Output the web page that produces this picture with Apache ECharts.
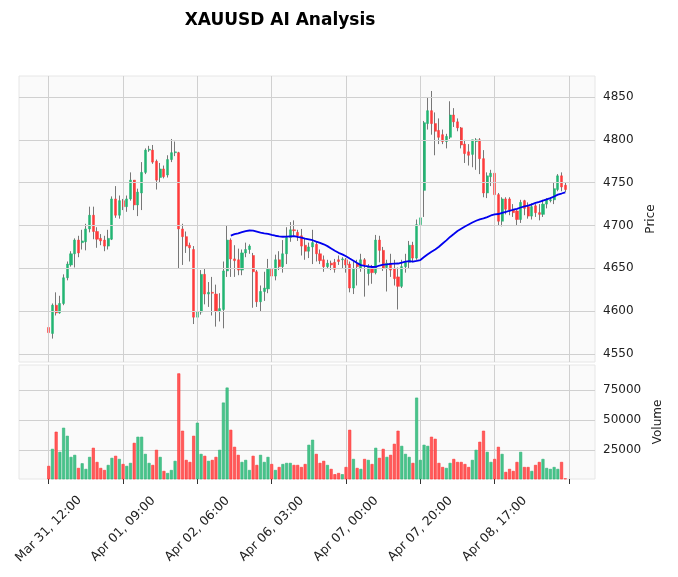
<!DOCTYPE html>
<html><head><meta charset="utf-8">
<script src="https://cdn.jsdelivr.net/npm/echarts@6/dist/echarts.min.js"></script>
<style>html,body{margin:0;padding:0;background:#fff}#c{width:678px;height:577px}</style>
</head><body><div id="c"></div>
<script>
// [open, close, low, high]
const candles = [
[4581,4575,4569,4589],[4574,4607,4568,4609],[4607,4598,4595,4622],[4598,4609,4597,4618],[4609,4639,4607,4643],
[4639,4655,4636,4658],[4654,4667,4652,4670],[4667,4683,4651,4685],[4683,4668,4663,4688],[4680,4682,4672,4695],
[4681,4696,4671,4702],[4696,4712,4692,4722],[4712,4693,4684,4722],[4693,4684,4674,4698],[4685,4682,4677,4690],
[4683,4676,4670,4688],[4676,4685,4672,4695],[4684,4731,4683,4734],[4731,4712,4709,4746],[4712,4729,4708,4735],
[4729,4722,4718,4731],[4722,4731,4716,4735],[4731,4753,4729,4762],[4753,4724,4718,4753],[4724,4739,4711,4743],
[4738,4762,4718,4774],[4762,4788,4760,4790],[4788,4789,4786,4793],[4788,4774,4772,4794],[4775,4753,4742,4777],
[4756,4766,4750,4773],[4766,4757,4755,4770],[4759,4777,4756,4782],[4777,4785,4774,4801],[4785,4786,4781,4798],
[4785,4696,4650,4786],[4696,4687,4654,4702],[4687,4676,4668,4693],[4677,4674,4658,4680],[4672,4593,4585,4676],
[4593,4599,4555,4609],[4599,4643,4596,4648],[4643,4620,4608,4650],[4620,4622,4605,4634],[4622,4621,4595,4640],
[4620,4600,4582,4631],[4600,4603,4588,4621],[4602,4647,4580,4658],[4647,4683,4640,4700],[4683,4661,4640,4685],
[4661,4659,4640,4677],[4660,4648,4642,4673],[4648,4668,4642,4672],[4668,4672,4663,4680],[4672,4676,4667,4678],
[4665,4646,4604,4668],[4646,4611,4605,4648],[4611,4623,4600,4630],[4623,4627,4612,4646],[4626,4649,4621,4661],
[4649,4641,4638,4652],[4641,4660,4636,4666],[4660,4652,4648,4670],[4652,4667,4645,4683],[4667,4686,4655,4698],
[4686,4695,4681,4704],[4695,4694,4688,4706],[4692,4688,4682,4695],[4688,4676,4665,4696],[4677,4670,4660,4685],
[4670,4675,4662,4680],[4675,4680,4655,4695],[4678,4667,4658,4681],[4667,4659,4655,4672],[4660,4652,4646,4665],
[4652,4656,4650,4660],[4656,4654,4648,4659],[4657,4649,4645,4661],[4660,4658,4654,4665],[4660,4661,4650,4663],
[4660,4654,4645,4662],[4655,4627,4622,4658],[4627,4650,4620,4658],[4655,4652,4630,4660],[4650,4660,4646,4667],
[4660,4654,4617,4662],[4644,4652,4630,4655],[4651,4645,4632,4654],[4645,4683,4643,4689],[4683,4671,4657,4688],
[4671,4650,4647,4675],[4651,4656,4623,4660],[4656,4648,4640,4667],[4650,4638,4630,4660],[4640,4629,4602,4651],
[4629,4652,4627,4660],[4652,4657,4645,4667],[4657,4677,4650,4682],[4677,4662,4657,4681],[4662,4701,4660,4707],
[4701,4709,4700,4712],[4741,4820,4710,4822],[4819,4834,4812,4850],[4834,4819,4806,4857],[4819,4810,4782,4832],
[4811,4803,4795,4825],[4806,4798,4795,4812],[4798,4804,4790,4807],[4803,4829,4801,4845],[4829,4821,4815,4837],
[4821,4814,4810,4825],[4814,4794,4790,4815],[4795,4784,4773,4800],[4786,4782,4770,4795],[4783,4800,4768,4800],
[4798,4800,4765,4802],[4800,4778,4760,4802],[4778,4738,4733,4788],[4738,4758,4732,4762],[4757,4761,4746,4765],
[4761,4736,4733,4765],[4736,4705,4700,4738],[4705,4731,4699,4733],[4731,4719,4713,4733],[4731,4718,4712,4733],
[4718,4715,4710,4725],[4717,4707,4700,4718],[4707,4727,4703,4730],[4729,4720,4712,4730],[4722,4711,4708,4727],
[4711,4722,4707,4726],[4723,4715,4710,4725],[4715,4713,4706,4725],[4713,4725,4710,4730],[4725,4730,4720,4732],
[4729,4730,4727,4733],[4730,4743,4725,4750],[4742,4758,4740,4760],[4758,4745,4740,4762],[4747,4742,4739,4750]
];
const volumes = [
11900,26100,40400,23600,43700,37000,19400,21100,10200,14100,9400,19400,27000,15200,10200,8500,12700,18600,20300,17700,
13500,11900,14400,31100,36200,36200,21900,14400,12700,25300,19400,7700,6000,8500,16100,89000,41200,16900,15200,37000,
47900,21900,20300,16100,16900,19400,25300,64700,77200,42000,27800,21100,15200,16900,8500,20300,12700,21100,15200,19400,
13500,8500,11000,13500,14400,14400,12700,12700,11000,13500,29500,33700,21900,14400,16100,12700,9400,5000,6000,5000,
11000,42000,17700,10200,9400,17700,16900,13500,27000,18600,26100,19400,21100,30300,41200,28600,21900,19400,14400,68800,
16900,29500,28600,36200,34500,14400,11000,10200,14400,17700,15200,15200,13500,11000,16900,25300,32000,41200,23600,15200,
17700,27800,21900,6900,9400,7700,15200,23600,11000,11000,7700,12700,15200,17700,10200,9400,11000,9400,15200,1500
];
const tickPositions = [0,20,40,60,80,100,120,140];
const tickLabels = ['Mar 31, 12:00','Apr 01, 09:00','Apr 02, 06:00','Apr 06, 03:00','Apr 07, 00:00','Apr 07, 20:00','Apr 08, 17:00',''];
const priceTicks = [4550,4600,4650,4700,4750,4800,4850];
const volumeTicks = [25000,50000,75000];
const maPeriod = 50;

const UP='#22b573', DOWN='#ff3b3b', VUP='#48c48b', VDOWN='#ff5b5b';
const wicks = candles.map((c,i)=>[i,c[0],c[0],c[2],c[3]]);
const bodies = candles.map((c,i)=>[i,c[0],c[1],Math.min(c[0],c[1]),Math.max(c[0],c[1])]);
const ma = [];
for(let i=maPeriod-1;i<candles.length;i++){let s=0;for(let j=i-maPeriod+1;j<=i;j++)s+=candles[j][1];ma.push([i,s/maPeriod]);}
const vols = volumes.map((v,i)=>({value:[i,v],itemStyle:{color:candles[i][1]>=candles[i][0]?VUP:VDOWN,borderColor:candles[i][1]>=candles[i][0]?'#2fb277':'#ff3333',borderWidth:0.6}}));
const font='DejaVu Sans';
const gridLine = {color:'#d0d0d0',width:1,type:'solid'};
function gridMarks(yVals){
  return {silent:true,symbol:'none',label:{show:false},lineStyle:gridLine,animation:false,
    data:tickPositions.map(x=>({xAxis:x})).concat(yVals.map(y=>({yAxis:y})))};
}
const xBase = {type:'value',min:-8,max:147,axisLine:{show:false},splitLine:{show:false},
  axisTick:{show:true,customValues:tickPositions,length:5,lineStyle:{color:'#333'}}};
const chart = echarts.init(document.getElementById('c'));
chart.setOption({
  animation:false,
  backgroundColor:'#fff',
  title:{text:'XAUUSD AI Analysis',left:275,top:7,textAlign:'center',textStyle:{fontFamily:font,fontSize:17,fontWeight:'bold',color:'#000'}},
  grid:[{left:19,width:576,top:76,height:286,show:true,backgroundColor:'#fafafa',borderColor:'#e6e6e6',outerBoundsMode:'none',containLabel:false},
        {left:19,width:576,top:365,height:114,show:true,backgroundColor:'#fafafa',borderColor:'#e6e6e6',outerBoundsMode:'none',containLabel:false}],
  xAxis:[Object.assign({gridIndex:0,axisLabel:{show:false}},xBase,{axisTick:{show:false}}),
         Object.assign({gridIndex:1,axisLabel:{customValues:tickPositions,rotate:45,fontFamily:font,fontSize:12.5,color:'#222',margin:50,
           align:'center',verticalAlign:'middle',hideOverlap:false,
           formatter:v=>tickLabels[tickPositions.indexOf(Math.round(v))]||''}},xBase)],
  yAxis:[{gridIndex:0,position:'right',min:4540.7,max:4874.5,name:'Price',nameLocation:'middle',nameGap:42,nameRotate:90,
          nameTextStyle:{fontFamily:font,fontSize:12,color:'#222'},axisLine:{show:false},splitLine:{show:false},
          axisTick:{show:true,customValues:priceTicks,length:4,lineStyle:{color:'#333'}},
          axisLabel:{customValues:priceTicks,fontFamily:font,fontSize:12,color:'#222',margin:8,formatter:v=>String(v)}},
         {gridIndex:1,position:'right',min:1000,max:96000,name:'Volume',nameLocation:'middle',nameGap:52,nameRotate:90,
          nameTextStyle:{fontFamily:font,fontSize:12,color:'#222'},axisLine:{show:false},splitLine:{show:false},
          axisTick:{show:true,customValues:volumeTicks,length:4,lineStyle:{color:'#333'}},
          axisLabel:{customValues:volumeTicks,fontFamily:font,fontSize:12,color:'#222',margin:8,formatter:v=>String(v)}}],
  series:[
    {type:'candlestick',xAxisIndex:0,yAxisIndex:0,data:wicks,barWidth:1,z:3,markLine:gridMarks(priceTicks),
     itemStyle:{color:'#777',color0:'#777',borderColor:'#777',borderColor0:'#777',borderWidth:1}},
    {type:'candlestick',xAxisIndex:0,yAxisIndex:0,data:bodies,barWidth:2.6,z:4,
     itemStyle:{color:UP,color0:DOWN,borderColor:UP,borderColor0:DOWN,borderWidth:0.5}},
    {type:'line',xAxisIndex:0,yAxisIndex:0,data:ma,showSymbol:false,z:5,lineStyle:{color:'#0000ee',width:1.8}},
    {type:'bar',xAxisIndex:1,yAxisIndex:1,data:vols,barWidth:3,z:3,markLine:Object.assign(gridMarks(volumeTicks),{z:1})}
  ]
});
</script></body></html>
